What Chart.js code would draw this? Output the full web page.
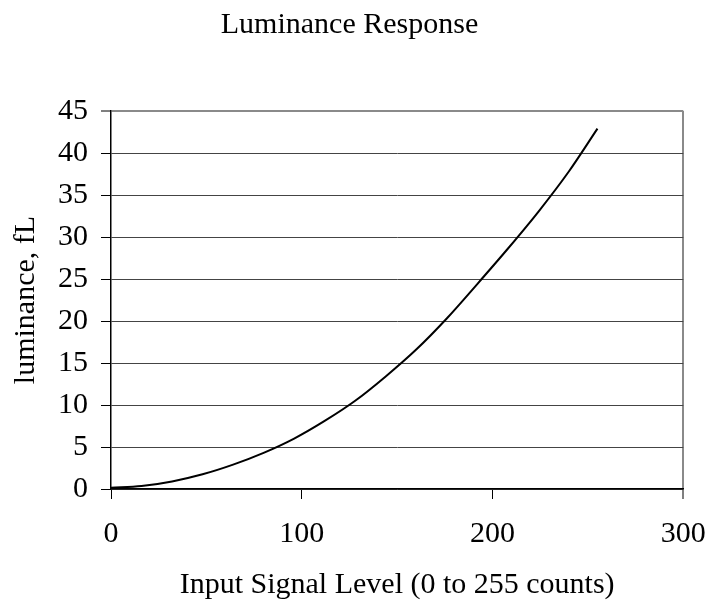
<!DOCTYPE html>
<html>
<head>
<meta charset="utf-8">
<script src="https://cdn.jsdelivr.net/npm/chart.js@4/dist/chart.umd.min.js"></script>
<style>
html,body{margin:0;padding:0;background:#fff;}
#wrap{width:707px;height:601px;position:relative;}
</style>
</head>
<body>
<div id="wrap"><canvas id="c" width="707" height="601"></canvas></div>
<script>
const inputCounts = [0, 16, 32, 48, 64, 80, 96, 112, 128, 144, 160, 176, 192, 208, 224, 240, 255];
const luminanceFL = [0.15, 0.35, 0.9, 1.75, 2.9, 4.3, 6.0, 8.1, 10.5, 13.4, 16.6, 20.3, 24.4, 28.6, 33.0, 37.8, 42.9];
const xTicks = [0, 100, 200, 300];
const yTicks = [0, 5, 10, 15, 20, 25, 30, 35, 40, 45];
const chartTitle = 'Luminance Response';
const xTitle = 'Input Signal Level (0 to 255 counts)';
const yTitle = 'luminance, fL';

const FONT = "'Liberation Serif', 'Times New Roman', serif";
const points = inputCounts.map((x, i) => ({x: x, y: luminanceFL[i]}));

new Chart(document.getElementById('c'), {
  type: 'line',
  data: {
    datasets: [{
      data: points,
      borderColor: '#000',
      borderWidth: 2,
      pointRadius: 0,
      fill: false,
      cubicInterpolationMode: 'monotone'
    }]
  },
  options: {
    responsive: false,
    animation: false,
    devicePixelRatio: 1,
    layout: {padding: {left: 0, right: 8, top: 0, bottom: 0}},
    plugins: {
      legend: {display: false},
      tooltip: {enabled: false},
      title: {
        display: true,
        text: chartTitle,
        color: '#000',
        font: {family: FONT, size: 30, weight: 'normal'},
        padding: {top: 7, bottom: 68}
      }
    },
    scales: {
      x: {
        type: 'linear',
        min: 0, max: 300,
        afterBuildTicks: s => { s.ticks = xTicks.map(v => ({value: v})); },
        afterFit: s => { s.height = 112; s.paddingRight = 23.7; s.paddingLeft = 0; },
        ticks: {color: '#000', font: {family: FONT, size: 30}, padding: 17, maxRotation: 0},
        grid: {
          drawTicks: true,
          tickLength: 10,
          tickColor: '#000',
          tickWidth: 1,
          lineWidth: ctx => (ctx.tick && ctx.tick.value === 300) ? 2 : 1,
          color: ctx => (ctx.tick && ctx.tick.value === 300) ? '#8a8a8a' : 'rgba(0,0,0,0)'
        },
        border: {display: true, color: '#000', width: 1.5},
        title: {display: true, text: xTitle, color: '#000', font: {family: FONT, size: 30, lineHeight: 1.07}, padding: {top: 0, bottom: 0}}
      },
      y: {
        type: 'linear',
        min: 0, max: 45,
        afterBuildTicks: s => { s.ticks = yTicks.map(v => ({value: v})); },
        afterFit: s => { s.width = 111; },
        ticks: {color: '#000', font: {family: FONT, size: 30}, padding: 13},
        grid: {
          drawTicks: true,
          tickLength: 10,
          tickColor: '#000',
          tickWidth: 1,
          lineWidth: ctx => (ctx.tick && ctx.tick.value === 45) ? 2 : 1,
          color: ctx => (ctx.tick && ctx.tick.value === 45) ? '#8a8a8a' : '#444'
        },
        border: {display: true, color: '#000', width: 1.5},
        title: {display: true, text: yTitle, color: '#000', font: {family: FONT, size: 30}, padding: {top: 8, bottom: 0}}
      }
    }
  }
});
</script>
</body>
</html>
